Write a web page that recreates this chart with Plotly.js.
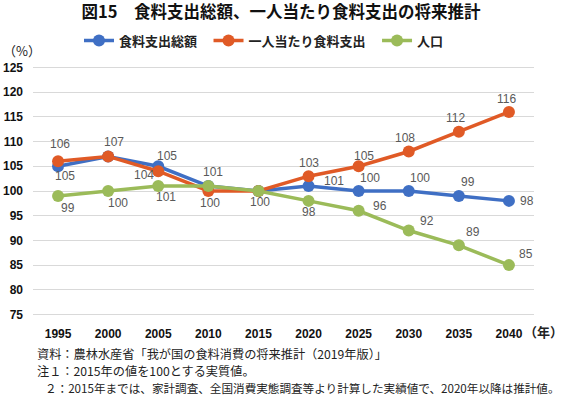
<!DOCTYPE html>
<html>
<head>
<meta charset="utf-8">
<script src="https://cdn.plot.ly/plotly-3.0.1.min.js"></script>
<style>html,body{margin:0;padding:0;background:#fff;}#chart{width:577px;height:396px;}</style>
</head>
<body>
<div id="chart"></div>
<script>
// ---- data ----
var years = [1995, 2000, 2005, 2010, 2015, 2020, 2025, 2030, 2035, 2040];
var totalFood = [105, 107, 105, 101, 100, 101, 100, 100, 99, 98];      // 食料支出総額
var perCapita = [106, 107, 104, 100, 100, 103, 105, 108, 112, 116];    // 一人当たり食料支出
var population = [99, 100, 101, 101, 100, 98, 96, 92, 89, 85];         // 人口
var seriesNames = ['食料支出総額', '一人当たり食料支出', '人口'];
var yTicks = [75, 80, 85, 90, 95, 100, 105, 110, 115, 120, 125];

// which data labels are visible (others hidden by overlap in the original)
var showTotal = [1, 0, 1, 1, 0, 1, 1, 1, 1, 1];
var showPerCap = [1, 1, 1, 1, 0, 1, 1, 1, 1, 1];
var showPop = [1, 1, 1, 0, 1, 1, 1, 1, 1, 1];

// label offsets (pixels, style only)
var dxTotal = [7, 0, 9, 5, 0, 25, 11, 11, 9, 18];
var dyTotal = [10, 0, -10, -14, 0, -5, -13, -13, -14, 0];
var dxPer = [2, 6, -14, 2, 0, 0, 5, -4, -3, -2];
var dyPer = [-17, -14, 4, 12, 0, -13, -10, -13, -14, -13];
var dxPop = [10, 10, 8, 0, 2, 0, 21, 18, 14, 17];
var dyPop = [12, 12, 11, 0, 11, 11, -5, -10, -13, -11];

var colors = ['#3F6FC4', '#E05A26', '#9BBB59'];
var legendPad = ['\u2002', '\u2002', ''];
var W = 577, H = 396;
var M = {l: 33, r: 43, t: 64.5, b: 78.5};
var plotW = W - M.l - M.r, plotH = H - M.t - M.b;
function px2x(px) { return (px - M.l) / plotW; }
function px2y(py) { return (H - M.b - py) / plotH; }

function mkTrace(y, i) {
  return {
    x: years, y: y, name: seriesNames[i] + legendPad[i], type: 'scatter', mode: 'lines+markers',
    line: {color: colors[i], width: 3.5},
    marker: {color: colors[i], size: 12},
    hoverinfo: 'none'
  };
}
var data = [mkTrace(totalFood, 0), mkTrace(perCapita, 1), mkTrace(population, 2)];

var ann = [];
function addLabels(vals, show, dx, dy) {
  for (var k = 0; k < years.length; k++) {
    if (!show[k]) continue;
    ann.push({
      x: years[k], y: vals[k], xref: 'x', yref: 'y', text: String(vals[k]),
      showarrow: false, xanchor: 'center', yanchor: 'middle',
      xshift: dx[k], yshift: -dy[k],
      font: {family: 'Liberation Sans, Arial, sans-serif', size: 12, color: '#595959'}
    });
  }
}
addLabels(totalFood, showTotal, dxTotal, dyTotal);
addLabels(perCapita, showPerCap, dxPer, dyPer);
addLabels(population, showPop, dxPop, dyPop);

var jp = 'Noto Sans CJK JP, sans-serif';
ann.push({xref: 'paper', yref: 'paper', x: px2x(1), y: px2y(50), xanchor: 'left', yanchor: 'middle',
  text: '（%）', showarrow: false, font: {family: jp, size: 13, color: '#222'}});
ann.push({xref: 'paper', yref: 'paper', x: px2x(522), y: px2y(332), xanchor: 'left', yanchor: 'middle',
  text: '（年）', showarrow: false, font: {family: jp, size: 13, color: '#222', weight: 'bold'}});
var notes = [
  ['資料：農林水産省「我が国の食料消費の将来推計（2019年版）」', 35, 355, 12.2],
  ['注１：2015年の値を100とする実質値。', 35, 372, 12.2],
  ['２：2015年までは、家計調査、全国消費実態調査等より計算した実績値で、2020年以降は推計値。', 43, 389, 11.6]
];
notes.forEach(function (n) {
  ann.push({xref: 'paper', yref: 'paper', x: px2x(n[1]), y: px2y(n[2]), xanchor: 'left', yanchor: 'middle',
    text: n[0], showarrow: false, font: {family: jp, size: n[3], color: '#222'}});
});

var layout = {
  width: W, height: H,
  margin: M,
  paper_bgcolor: '#fff', plot_bgcolor: '#fff',
  title: {text: '図15　食料支出総額、一人当たり食料支出の将来推計', xref: 'container', yref: 'container',
    x: 281 / W, y: 1 - 12 / H, xanchor: 'center', yanchor: 'middle',
    font: {family: jp, size: 16.5, color: '#111', weight: 'bold'}},
  showlegend: true,
  legend: {orientation: 'h', xref: 'paper', yref: 'paper', x: px2x(79), y: px2y(40),
    xanchor: 'left', yanchor: 'middle', bgcolor: 'rgba(0,0,0,0)',
    font: {family: jp, size: 13, color: '#222', weight: 'bold'}},
  xaxis: {range: [1992.5, 2042.5], tickvals: years, ticktext: years.map(String),
    showgrid: false, zeroline: false, showline: false, ticks: '', ticklabelstandoff: 8,
    tickfont: {family: 'Liberation Sans, Arial, sans-serif', size: 12, color: '#111', weight: 'bold'}},
  yaxis: {range: [74.5, 125.5], tickvals: yTicks, showgrid: true, gridcolor: '#D9D9D9', gridwidth: 1,
    zeroline: false, showline: false, ticks: '', ticklabelstandoff: 9,
    tickfont: {family: 'Liberation Sans, Arial, sans-serif', size: 12, color: '#111', weight: 'bold'}},
  annotations: ann
};
Plotly.newPlot('chart', data, layout, {displayModeBar: false, staticPlot: true});
</script>
</body>
</html>
